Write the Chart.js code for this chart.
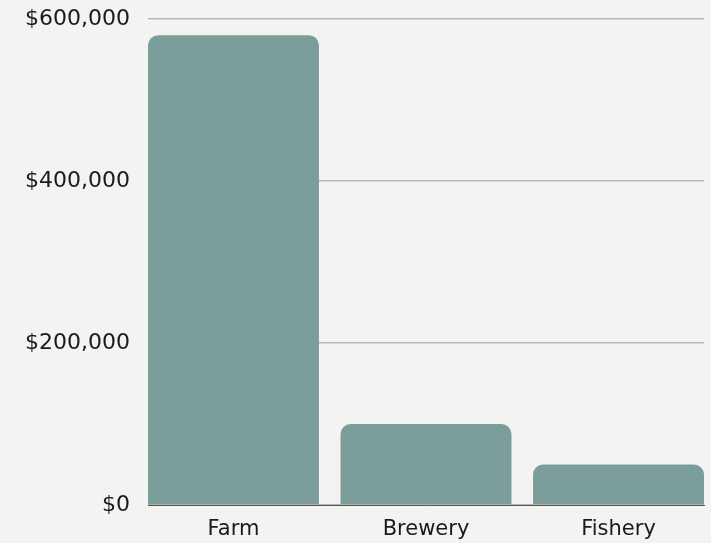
<!DOCTYPE html>
<html>
<head>
<meta charset="utf-8">
<script src="https://cdn.jsdelivr.net/npm/chart.js@4/dist/chart.umd.min.js"></script>
<style>
  html, body { margin: 0; padding: 0; background: #f4f3f1; }
  #wrap { width: 711px; height: 543px; }
</style>
</head>
<body>
<div id="wrap"><canvas id="c" width="711" height="543"></canvas></div>
<script>
// Revenue by business line
const categories = ["Farm", "Brewery", "Fishery"];
const revenue = [580000, 100000, 50000];
const yTicks = [0, 200000, 400000, 600000];

const fmt = v => "$" + v.toLocaleString("en-US");
const FONT = "DejaVu Sans";

// Bars sit on a numeric x axis (one unit per business line) so the outer bars
// can run flush to the plot edges.
const points = categories.map((c, i) => ({ x: i, y: revenue[i] }));

new Chart(document.getElementById("c"), {
  type: "bar",
  data: {
    datasets: [{
      data: points,
      backgroundColor: "#7c9e9b",
      borderRadius: { topLeft: 10, topRight: 10, bottomLeft: 0, bottomRight: 0 },
      borderSkipped: "bottom",
      categoryPercentage: 1.0,
      barPercentage: 0.888
    }]
  },
  options: {
    responsive: false,
    animation: false,
    layout: { padding: { top: 19, right: 7, bottom: 0, left: 0 } },
    plugins: { legend: { display: false }, tooltip: { enabled: false } },
    scales: {
      x: {
        type: "linear",
        min: -0.444, max: 2.444,
        offset: false,
        afterBuildTicks: s => { s.ticks = categories.map((c, i) => ({ value: i })); },
        grid: { display: false, drawTicks: false },
        border: { display: true, color: "#555555", width: 1 },
        ticks: {
          color: "#1a1a1a",
          font: { family: FONT, size: 21 },
          padding: 12,
          callback: v => categories[v]
        },
        afterFit: s => { s.height = 38; s.paddingLeft = 0; s.paddingRight = 0; }
      },
      y: {
        min: 0, max: 600000,
        afterBuildTicks: s => { s.ticks = yTicks.map(v => ({ value: v })); },
        grid: { color: "#b8b8b6", lineWidth: 1.5, drawTicks: false },
        border: { display: false },
        ticks: {
          color: "#1a1a1a",
          font: { family: FONT, size: 22 },
          padding: 18,
          callback: v => fmt(v)
        },
        afterFit: s => { s.width = 148; s.paddingTop = 0; s.paddingBottom = 0; }
      }
    }
  }
});
</script>
</body>
</html>
